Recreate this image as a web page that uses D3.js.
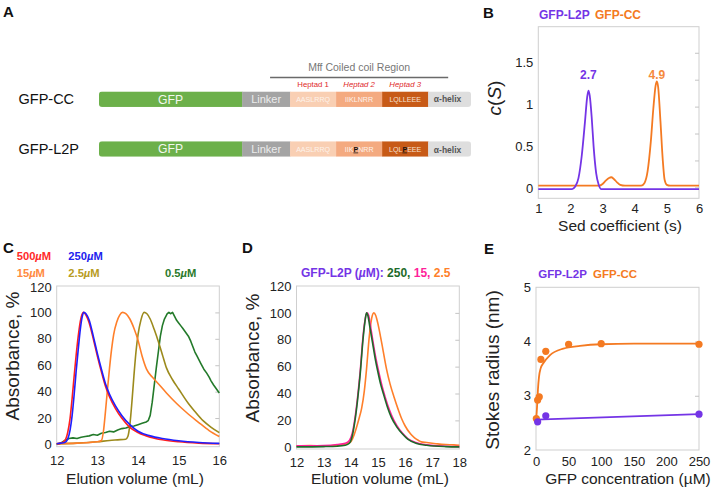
<!DOCTYPE html>
<html><head><meta charset="utf-8">
<script src="https://cdn.jsdelivr.net/npm/d3@7"></script>
<style>
body{margin:0;background:#fff}
svg{display:block;font-family:"Liberation Sans",Arial,Helvetica,sans-serif}
</style>
</head><body>
<svg id="c" width="713" height="490"></svg>
<script>
// ---------------- DATA ----------------
// Panel A schematic
const constructs = ["GFP-CC", "GFP-L2P"];
const segNames = ["GFP", "Linker", "Heptad 1", "Heptad 2", "Heptad 3", "α-helix"];
const segLengths = [3.11, 1.04, 1, 1, 1, 0.93];
const segColors = ["#6cb04a", "#a4a4a4", "#f9cfb3", "#f4aa80", "#c75a17", "#dedede"];
const heptadLabels = ["Heptad 1", "Heptad 2", "Heptad 3"];
const seqCC = ["AASLRRQ", "IIKLNRR", "LQLLEEE"];
const seqL2P = [["AASLRRQ", "", ""], ["IIK", "P", "NRR"], ["LQL", "P", "EEE"]];

// Panel B: sedimentation c(S)
const bL2P = [[1,-0.01],[2.05,-0.01],[2.15,0.02],[2.25,0.12],[2.35,0.38],[2.45,0.78],[2.52,1.08],[2.56,1.16],[2.6,1.1],[2.66,0.85],[2.72,0.5],[2.8,0.18],[2.88,0.04],[2.95,-0.01],[6,-0.01]];
const bCC = [[1,0.03],[2.9,0.03],[3.0,0.05],[3.1,0.09],[3.2,0.122],[3.27,0.13],[3.35,0.11],[3.45,0.07],[3.55,0.04],[3.7,0.03],[4.2,0.03],[4.3,0.06],[4.4,0.2],[4.5,0.55],[4.58,0.95],[4.65,1.22],[4.69,1.27],[4.73,1.2],[4.8,0.8],[4.87,0.35],[4.93,0.1],[5.0,0.04],[5.1,0.03],[6,0.03]];
const bPeakLabels = [["2.7", 2.56], ["4.9", 4.69]];
const bXTicks = [1,2,3,4,5,6];
const bYTicks = [0,0.5,1,1.5];
const bRightTicks = [0.01,0.33,0.65,0.97,1.29,1.61];

// Panel C: GFP-CC SEC traces
const cLegend = ["500", "250", "15", "2.5", "0.5"];
const c500 = [[12.0,0.5],[12.1,1],[12.2,3],[12.27,9],[12.33,20],[12.38,35],[12.43,52],[12.48,68],[12.53,82],[12.58,93],[12.63,99],[12.66,100],[12.72,98],[12.8,92],[12.9,80],[13.0,67],[13.1,55],[13.2,44],[13.3,36],[13.45,27],[13.6,20],[13.8,13],[14.0,9],[14.3,5.5],[14.6,3.5],[15.0,2],[15.5,1],[16,0.5]];
const c250 = [[12.0,0.5],[12.1,1],[12.2,1.5],[12.27,4],[12.33,11],[12.38,22],[12.43,38],[12.48,56],[12.53,72],[12.58,87],[12.63,97],[12.67,100],[12.72,99],[12.8,94],[12.9,82],[13.0,69],[13.1,57],[13.2,46],[13.3,38],[13.45,29],[13.6,22],[13.8,15],[14.0,10],[14.3,6.5],[14.6,4.5],[15.0,2.8],[15.5,1.5],[16,0.8]];
const c15 = [[12,0.5],[12.5,1],[13.0,2],[13.1,3],[13.15,10],[13.2,25],[13.25,42],[13.3,58],[13.35,72],[13.4,83],[13.48,93],[13.55,98],[13.62,100],[13.7,99],[13.8,95],[13.9,88],[14.0,79],[14.1,67],[14.21,57],[14.35,51],[14.5,46],[14.7,39],[14.95,31],[15.2,24],[15.48,17],[15.75,10.5],[16,6]];
const c2_5 = [[12,0.5],[12.5,1],[13,2],[13.3,3],[13.5,3.5],[13.7,4],[13.75,6],[13.8,15],[13.85,32],[13.9,52],[13.95,70],[14.0,83],[14.07,94],[14.15,100],[14.22,99],[14.3,95],[14.4,87],[14.5,78],[14.6,68],[14.7,58],[14.85,49],[15.0,42],[15.24,31],[15.4,25],[15.6,18],[15.8,13],[16,9]];
const c0_5 = [[12,0],[12.1,1],[12.2,3],[12.3,4.5],[12.4,5],[12.5,4.5],[12.6,5.5],[12.7,6],[12.8,6.5],[12.9,7.5],[13.0,7],[13.1,8.5],[13.2,9],[13.3,10],[13.4,9.5],[13.5,11],[13.6,12],[13.7,12.5],[13.8,13.5],[13.9,14],[14.0,15],[14.1,16],[14.2,17],[14.25,18],[14.3,22],[14.35,32],[14.4,45],[14.45,58],[14.5,70],[14.55,82],[14.6,90],[14.65,95],[14.72,99],[14.76,100],[14.8,99],[14.85,100],[14.9,97],[14.95,94],[15.0,92],[15.05,90],[15.1,88],[15.17,85],[15.24,82],[15.3,78],[15.35,74],[15.4,70],[15.45,67],[15.5,64],[15.55,61],[15.62,57],[15.69,54],[15.75,51],[15.8,48],[15.86,45],[15.93,42],[16,39]];
const cXTicks = [12,13,14,15,16];
const yTicks120 = [0,20,40,60,80,100,120];

// Panel D: GFP-L2P SEC traces
const dLegend = ["250", "15", "2.5"];
const d250 = [[12,0.3],[13,0.5],[13.5,0.8],[13.8,1.5],[13.95,3],[14.05,8],[14.15,19],[14.25,35],[14.35,55],[14.45,80],[14.52,93],[14.58,100],[14.63,98],[14.7,90],[14.8,78],[14.9,66],[15.0,56],[15.1,47],[15.2,40],[15.35,30],[15.5,22],[15.7,15],[15.9,10],[16.1,6],[16.4,3],[16.8,1.5],[17.5,0.5],[18,0.3]];
const d15 = [[12,1],[12.5,1],[13,1.2],[13.5,2],[13.8,3],[13.95,5],[14.05,10],[14.15,21],[14.25,37],[14.35,57],[14.45,82],[14.52,94],[14.6,100],[14.66,98],[14.72,91],[14.8,81],[14.9,69],[15.0,59],[15.1,50],[15.2,42],[15.35,32],[15.5,24],[15.7,16],[15.9,10.5],[16.1,6.5],[16.4,3.5],[16.8,1.8],[17.5,0.8],[18,0.5]];
const d2_5 = [[12,1],[12.5,1.2],[13,1],[13.5,1.5],[13.8,2.5],[14.0,4],[14.1,8],[14.2,14],[14.3,21],[14.4,29],[14.5,42],[14.58,58],[14.68,82],[14.77,96],[14.85,100],[14.92,98],[15.0,92],[15.1,82],[15.2,71],[15.32,58],[15.45,47],[15.6,37],[15.75,28],[15.88,21],[16.0,16],[16.2,10],[16.35,7],[16.5,5],[16.6,4],[16.8,3.5],[17.0,3],[17.2,2.5],[17.5,2],[17.8,1.8],[18,1.5]];
const dXTicks = [12,13,14,15,16,17,18];

// Panel E: Stokes radius vs concentration
const eCCpts = [[0.5,2.58],[2.5,2.92],[5,2.98],[7.5,3.67],[15,3.82],[50,3.95],[100,3.96],[250,3.95]];
const eCCfit = [[0,2.58],[1,2.68],[2,2.88],[3,3.12],[4.6,3.35],[7,3.5],[11.2,3.6],[21.5,3.75],[41.9,3.87],[67.5,3.92],[100,3.95],[150,3.96],[250,3.96]];
const eL2Ppts = [[2.5,2.52],[15,2.63],[250,2.66]];
const eL2Pfit = [[0,2.56],[250,2.66]];
const eXTicks = [0,50,100,150,200,250];
const eYTicks = [2,3,4,5];

// ---------------- DRAWING ----------------
const svg = d3.select("#c");
const PURPLE = "#7434e6", ORANGE = "#f47a22";

function label(t, x, y, size) {
  svg.append("text").attr("x", x).attr("y", y).attr("font-size", size || 15)
    .attr("font-weight", "bold").attr("fill", "#111").text(t);
}

function panel(o) {
  const x = d3.scaleLinear().domain(o.xDom).range([o.x0, o.x1]);
  const y = d3.scaleLinear().domain(o.yDom).range([o.yBot, o.yTop]);
  const g = svg.append("g");
  g.append("rect").attr("x", o.x0).attr("y", o.yTop).attr("width", o.x1 - o.x0)
    .attr("height", o.yBot - o.yTop).attr("fill", "none").attr("stroke", "#cfcfcf").attr("stroke-width", 1);
  const ax = g.append("g").attr("transform", `translate(0,${o.yBot})`)
    .call(d3.axisBottom(x).tickValues(o.xTicks).tickSize(0).tickPadding(o.xPad).tickFormat(o.xFmt || d3.format("")));
  const ay = g.append("g").attr("transform", `translate(${o.x0},0)`)
    .call(d3.axisLeft(y).tickValues(o.yTicks).tickSize(0).tickPadding(5).tickFormat(o.yFmt || d3.format("")));
  const ar = g.append("g").attr("transform", `translate(${o.x1},0)`)
    .call(d3.axisLeft(y).tickValues(o.rTicks || o.yTicks).tickSize(4).tickFormat(""));
  [ax, ay, ar].forEach(a => {
    a.select(".domain").remove();
    a.selectAll("text").attr("font-size", 13).attr("fill", "#222").attr("font-family", '"Liberation Sans", Arial, sans-serif');
    a.selectAll("line").attr("stroke", "#c4c4c4");
  });
  // titles
  g.append("text").attr("x", o.xtX).attr("y", o.xtY).attr("text-anchor", "middle")
    .attr("font-size", o.xtSize || 15.5).attr("fill", "#222").text(o.xTitle);
  const yt = g.append("text").attr("transform", `translate(${o.ytX},${o.ytY}) rotate(-90)`)
    .attr("text-anchor", "middle").attr("font-size", o.ytSize || 19).attr("fill", "#222");
  if (o.yTitleFn) o.yTitleFn(yt); else yt.text(o.yTitle);
  return { x, y, g };
}

function drawLine(p, data, color, w, curve) {
  p.g.append("path").datum(data).attr("fill", "none").attr("stroke", color)
    .attr("stroke-width", w || 1.6).attr("stroke-linejoin", "round")
    .attr("d", d3.line().x(d => p.x(d[0])).y(d => p.y(d[1])).curve(curve || d3.curveMonotoneX));
}

// ---------- Panel A ----------
label("A", 3, 17, 15);
const total = d3.sum(segLengths);
const sx = d3.scaleLinear().domain([0, total]).range([99, 471]);
const ry = d3.scalePoint().domain(constructs).range([99.2, 149]);
const cum = d3.cumsum([0].concat(segLengths));
const barH = 15.5;

svg.append("text").attr("x", sx(cum[2] + 1.5)).attr("y", 71).attr("text-anchor", "middle")
  .attr("font-size", 10.5).attr("fill", "#777").text("Mff Coiled coil Region");
svg.append("line").attr("x1", sx(cum[2]) - 20).attr("x2", sx(cum[5]) + 20).attr("y1", 77.5).attr("y2", 77.5)
  .attr("stroke", "#6a6a6a").attr("stroke-width", 1.4);
heptadLabels.forEach((h, i) => {
  svg.append("text").attr("x", (sx(cum[2 + i]) + sx(cum[3 + i])) / 2).attr("y", 87)
    .attr("text-anchor", "middle").attr("font-size", 7.8).attr("fill", "#e02a2a")
    .attr("font-style", i === 0 ? "normal" : "italic").text(h);
});

const defs = svg.append("defs");
constructs.forEach((c, ci) => {
  const cy = ry(c);
  const top = cy - barH / 2;
  defs.append("clipPath").attr("id", "clip" + ci).append("rect")
    .attr("x", sx(0)).attr("y", top).attr("width", sx(total) - sx(0)).attr("height", barH).attr("rx", 3);
  const g = svg.append("g").attr("clip-path", `url(#clip${ci})`);
  segLengths.forEach((l, i) => {
    g.append("rect").attr("x", sx(cum[i])).attr("y", top).attr("width", sx(cum[i + 1]) - sx(cum[i]) + 0.3)
      .attr("height", barH).attr("fill", segColors[i]);
  });
  svg.append("text").attr("x", 18.5).attr("y", cy).attr("dy", "0.36em").attr("font-size", 14.5)
    .attr("fill", "#111").text(c);
  const mid = i => (sx(cum[i]) + sx(cum[i + 1])) / 2;
  svg.append("text").attr("x", mid(0)).attr("y", cy).attr("dy", "0.36em").attr("text-anchor", "middle")
    .attr("font-size", 12.2).attr("fill", "#f2f7ee").text("GFP");
  svg.append("text").attr("x", mid(1)).attr("y", cy).attr("dy", "0.36em").attr("text-anchor", "middle")
    .attr("font-size", 11).attr("fill", "#ececec").text("Linker");
  for (let k = 0; k < 3; k++) {
    const t = svg.append("text").attr("x", mid(2 + k)).attr("y", cy).attr("dy", "0.36em").attr("text-anchor", "middle")
      .attr("font-size", 7.1).attr("fill", k === 2 ? "#f6e0d0" : "#fdf3ec");
    if (ci === 0) t.text(seqCC[k]);
    else {
      const s = seqL2P[k];
      t.append("tspan").text(s[0]);
      if (s[1]) t.append("tspan").attr("fill", "#111").attr("font-weight", "bold").attr("text-decoration", "underline").text(s[1]);
      if (s[2]) t.append("tspan").text(s[2]);
    }
  }
  svg.append("text").attr("x", mid(5) - 2).attr("y", cy + (ci ? 1 : -0.5)).attr("dy", "0.36em").attr("text-anchor", "middle")
    .attr("font-size", 8.5).attr("font-weight", "bold").attr("fill", "#555").text("α-helix");
});

// ---------- Panel B ----------
label("B", 483, 18, 15);
svg.append("text").attr("x", 539).attr("y", 19).attr("font-size", 12).attr("font-weight", "bold").attr("fill", PURPLE).text("GFP-L2P");
svg.append("text").attr("x", 595).attr("y", 19).attr("font-size", 12).attr("font-weight", "bold").attr("fill", ORANGE).text("GFP-CC");
const pB = panel({x0: 538.3, x1: 699, yTop: 26.7, yBot: 198.3, xDom: [1, 6], yDom: [-0.12, 1.92],
  xTicks: bXTicks, yTicks: bYTicks, rTicks: bRightTicks, xPad: 5, yFmt: d3.format(""),
  xTitle: "Sed coefficient (s)", xtX: 620, xtY: 231, xtSize: 15.5, ytX: 501, ytY: 98,
  yTitleFn: t => { t.append("tspan").attr("font-style", "italic").text("c"); t.append("tspan").text("("); t.append("tspan").attr("font-style", "italic").text("S"); t.append("tspan").text(")"); }});
drawLine(pB, bCC, ORANGE, 1.8);
drawLine(pB, bL2P, PURPLE, 1.8);
bPeakLabels.forEach((p, i) => {
  svg.append("text").attr("x", pB.x(p[1])).attr("y", 79).attr("text-anchor", "middle")
    .attr("font-size", 12).attr("font-weight", "bold").attr("fill", i ? "#f58a3c" : PURPLE).text(p[0]);
});

// ---------- Panel C ----------
label("C", 3, 253, 15);
const cColors = ["#ff1f1f", "#1f1fff", "#ff7f2a", "#9c8a1c", "#237a2a"];
const cLegColors = ["#ff2a2a", "#2222ee", "#ff8a40", "#b89c22", "#2b7a2b"];
const cLegPos = [[16.7, 259.5], [68.3, 259.5], [16.7, 277], [68.3, 277], [165, 277]];
cLegend.forEach((v, i) => {
  const t = svg.append("text").attr("x", cLegPos[i][0]).attr("y", cLegPos[i][1]).attr("font-size", 11.2)
    .attr("font-weight", "bold").attr("fill", cLegColors[i]);
  t.append("tspan").text(v);
  t.append("tspan").attr("font-style", "italic").text("µ");
  t.append("tspan").text("M");
});
const pC = panel({x0: 56.7, x1: 219.3, yTop: 286, yBot: 446.7, xDom: [12, 16], yDom: [-1.7, 120],
  xTicks: cXTicks, yTicks: yTicks120, rTicks: [20,40,60,80,100], xPad: 9,
  xTitle: "Elution volume (mL)", xtX: 135, xtY: 483.5, ytX: 19, ytY: 356, yTitle: "Absorbance, %"});
pC.g.selectAll(".tick text").filter(d => d === 120).attr("dy", "0.4em");
drawLine(pC, c0_5, cColors[4], 1.6, d3.curveLinear);
drawLine(pC, c2_5, cColors[3], 1.6);
drawLine(pC, c15, cColors[2], 1.6);
drawLine(pC, c500, cColors[0], 1.6);
drawLine(pC, c250, cColors[1], 1.6);

// ---------- Panel D ----------
label("D", 242, 253, 15);
const dColors = ["#1d6b2a", "#ff1f9a", "#ff7f2a"];
{
  const t = svg.append("text").attr("x", 301).attr("y", 277.3).attr("font-size", 12).attr("font-weight", "bold");
  t.append("tspan").attr("fill", PURPLE).text("GFP-L2P (");
  t.append("tspan").attr("fill", PURPLE).attr("font-style", "italic").text("µ");
  t.append("tspan").attr("fill", PURPLE).text("M): ");
  dLegend.forEach((v, i) => {
    t.append("tspan").attr("fill", dColors[i]).text(v + (i < dLegend.length - 1 ? ", " : ""));
  });
}
const pD = panel({x0: 296.5, x1: 459.3, yTop: 286, yBot: 449, xDom: [12, 18], yDom: [-1.3, 120],
  xTicks: dXTicks, yTicks: yTicks120, rTicks: [20,40,60,80,100], xPad: 9,
  xTitle: "Elution volume (mL)", xtX: 380, xtY: 483.5, ytX: 259, ytY: 358, yTitle: "Absorbance, %"});
drawLine(pD, d2_5, dColors[2], 1.6, d3.curveMonotoneX);
drawLine(pD, d15, dColors[1], 1.6);
drawLine(pD, d250, dColors[0], 1.6);

// ---------- Panel E ----------
label("E", 484, 254, 15);
svg.append("text").attr("x", 538.3).attr("y", 278.3).attr("font-size", 11.5).attr("font-weight", "bold").attr("fill", PURPLE).text("GFP-L2P");
svg.append("text").attr("x", 593).attr("y", 278.3).attr("font-size", 11.5).attr("font-weight", "bold").attr("fill", ORANGE).text("GFP-CC");
const pE = panel({x0: 536, x1: 699, yTop: 287.3, yBot: 450, xDom: [0, 250], yDom: [2, 5],
  xTicks: eXTicks, yTicks: eYTicks, rTicks: [3, 4], xPad: 7,
  xTitle: "GFP concentration (µM)", xtX: 628, xtY: 483.5, ytX: 499, ytY: 370, yTitle: "Stokes radius (nm)"});
drawLine(pE, eCCfit, ORANGE, 1.8);
drawLine(pE, eL2Pfit, PURPLE, 1.8, d3.curveLinear);
pE.g.selectAll("circle.cc").data(eCCpts).join("circle").attr("class", "cc")
  .attr("cx", d => pE.x(d[0])).attr("cy", d => pE.y(d[1])).attr("r", 3.6).attr("fill", ORANGE);
pE.g.selectAll("circle.lp").data(eL2Ppts).join("circle").attr("class", "lp")
  .attr("cx", d => pE.x(d[0])).attr("cy", d => pE.y(d[1])).attr("r", 3.6).attr("fill", PURPLE);
</script>
</body></html>
